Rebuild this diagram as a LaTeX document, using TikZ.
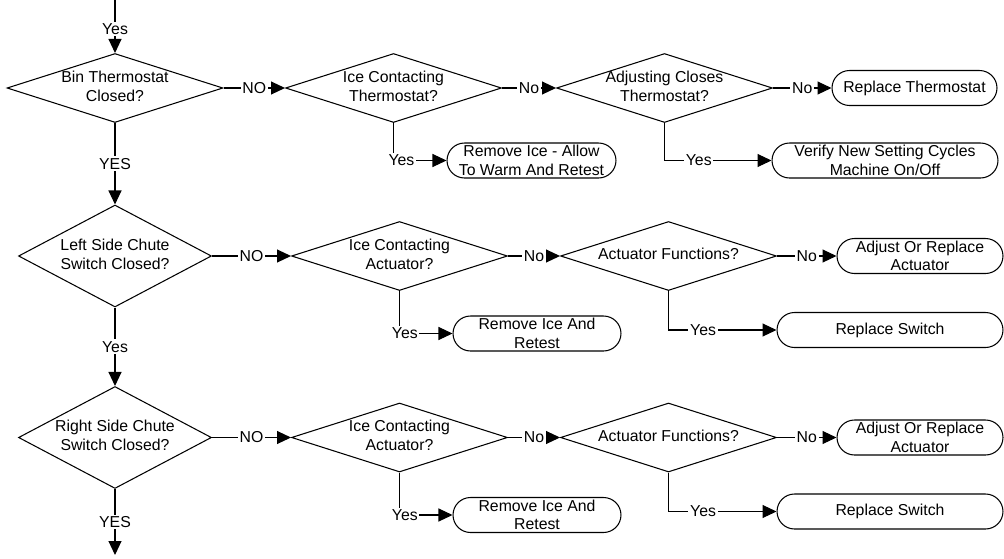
\documentclass[tikz,border=0pt]{standalone}
\usepackage{fontspec}
\setmainfont{Liberation Sans}
\usetikzlibrary{arrows.meta, shapes.geometric}
\newcommand{\qtext}[1]{\makebox[0pt]{\raisebox{-1pt}{\begin{tabular}{@{}c@{}}#1\end{tabular}}}}
\tikzset{
	decision/.style={
			shape=diamond,
			draw=black,
			line width=0.6pt,
			aspect=1,
			inner sep=0pt,
			minimum width=4.32cm,
			minimum height=1.38cm
		},
	bigdecision/.style={
			decision,
			minimum width=3.86cm,
			minimum height=2.04cm
		},
	endnode/.style={
			shape=rectangle,
			draw=black,
			line width=0.6pt,
			rounded corners=0.35cm,
			align=center,
			inner xsep=2pt,
			inner ysep=0pt,
			minimum height=0.7cm
		},
	flowline/.style={
			line width=0.6pt,
			-{Triangle[length=0.28cm, width=0.26cm]}
		},
	answer/.style={fill=white, inner sep=1pt}
}

\begin{document}
\begin{tikzpicture}[x=0.02cm, y=-0.02cm, font=\fontsize{9}{10.6}\selectfont]

  \useasboundingbox (0,0) rectangle (1004,558);

  % decisions
  \node[decision] (q1) at (115,88) {\qtext{Bin Thermostat\\Closed?}};
  \node[decision] (q2) at (393.5,88) {\qtext{Ice Contacting\\Thermostat?}};
  \node[decision] (q3) at (664.5,88) {\qtext{Adjusting Closes\\Thermostat?}};

  \node[bigdecision] (q4) at (115,256) {\qtext{Left Side Chute\\Switch Closed?}};
  \node[decision] (q5) at (399.5,256) {\qtext{Ice Contacting\\Actuator?}};
  \node[decision] (q6) at (668.5,256) {\qtext{Actuator Functions?}};

  \node[bigdecision] (q7) at (115,437.5) {\qtext{Right Side Chute\\Switch Closed?}};
  \node[decision] (q8) at (399.5,437.5) {\qtext{Ice Contacting\\Actuator?}};
  \node[decision] (q9) at (668.5,437.5) {\qtext{Actuator Functions?}};

  % results
  \node[endnode, minimum width=3.3cm] (t1) at (914.5,88) {Replace Thermostat};
  \node[endnode, minimum width=3.38cm] (t2) at (531.5,160.5) {Remove Ice - Allow\\To Warm And Retest};
  \node[endnode, minimum width=4.52cm] (t3) at (885,160.5) {Verify New Setting Cycles\\Machine On/Off};

  \node[endnode, minimum width=3.32cm] (t4) at (920,256) {Adjust Or Replace\\Actuator};
  \node[endnode, minimum width=3.36cm] (t5) at (537,333.5) {Remove Ice And\\Retest};
  \node[endnode, minimum width=4.52cm] (t6) at (890,330) {Replace Switch};

  \node[endnode, minimum width=3.32cm] (t7) at (920,437.5) {Adjust Or Replace\\Actuator};
  \node[endnode, minimum width=3.36cm] (t8) at (537,515) {Remove Ice And\\Retest};
  \node[endnode, minimum width=4.52cm] (t9) at (890,511.5) {Replace Switch};

  \coordinate (top) at (115,0);
  \coordinate (bottom) at (115,555);

  % row 1
  \draw[flowline] (top) -- node[answer, pos=0.55] {Yes} (q1.north);
  \draw[flowline] (q1.east) -- node[answer] {NO} (q2.west);
  \draw[flowline] (q2.east) -- node[answer] {No} (q3.west);
  \draw[flowline] (q3.east) -- node[answer] {No} (t1.west);
  \draw[flowline] (q2.south) |- node[answer, pos=0.575] {Yes} (t2.west);
  \draw[flowline] (q3.south) |- node[answer, pos=0.66] {Yes} (t3.west);
  \draw[flowline] (q1.south) -- node[answer] {YES} (q4.north);

  % row 2
  \draw[flowline] (q4.east) -- node[answer] {NO} (q5.west);
  \draw[flowline] (q5.east) -- node[answer] {No} (q6.west);
  \draw[flowline] (q6.east) -- node[answer] {No} (t4.west);
  \draw[flowline] (q5.south) |- node[answer, pos=0.55] {Yes} (t5.west);
  \draw[flowline] (q6.south) |- node[answer, pos=0.66] {Yes} (t6.west);
  \draw[flowline] (q4.south) -- node[answer] {Yes} (q7.north);

  % row 3
  \draw[flowline] (q7.east) -- node[answer] {NO} (q8.west);
  \draw[flowline] (q8.east) -- node[answer] {No} (q9.west);
  \draw[flowline] (q9.east) -- node[answer] {No} (t7.west);
  \draw[flowline] (q8.south) |- node[answer, pos=0.55] {Yes} (t8.west);
  \draw[flowline] (q9.south) |- node[answer, pos=0.66] {Yes} (t9.west);
  \draw[flowline] (q7.south) -- node[answer] {YES} (bottom);

\end{tikzpicture}
\end{document}
